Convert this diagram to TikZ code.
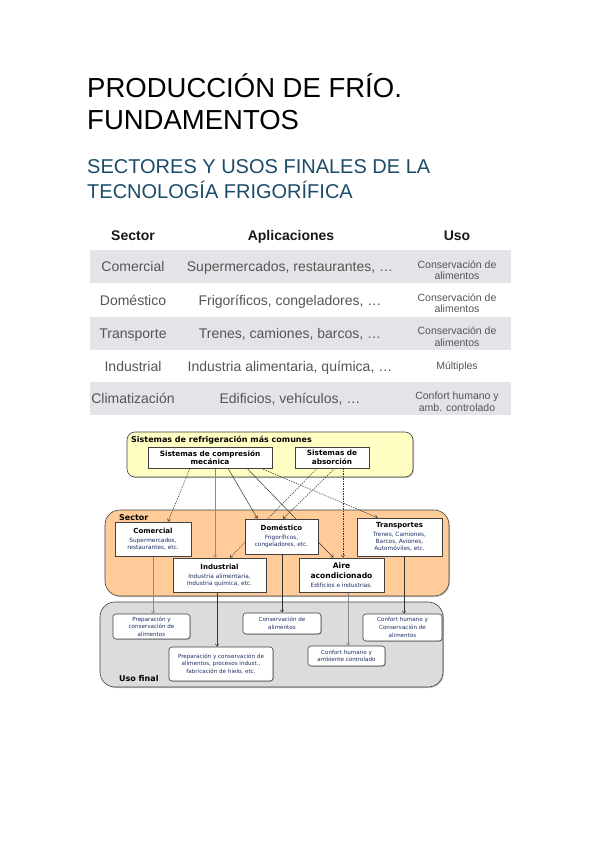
\documentclass[tikz,border=0pt]{standalone}
\usepackage{fontspec}
\setmainfont{Liberation Sans}
\newfontfamily\diagfont{DejaVu Sans}
\usepackage{tikz}
\usetikzlibrary{positioning}
\usetikzlibrary{arrows.meta}
\usetikzlibrary{shadows}

\definecolor{titleblue}{RGB}{28,76,106}
\definecolor{rowgray}{RGB}{228,228,232}
\definecolor{tabtext}{RGB}{85,85,85}
\definecolor{sysyellow}{RGB}{255,255,196}
\definecolor{secorange}{RGB}{255,204,153}
\definecolor{usegray}{RGB}{220,220,220}
\definecolor{subblue}{RGB}{30,45,100}

\pgfdeclarelayer{back}
\pgfdeclarelayer{mid}
\pgfsetlayers{back,mid,main}

\newcommand{\boxtext}[2]{{\bfseries\fontsize{7}{8.5}\selectfont #1\par}\vspace{2pt}{\fontsize{5.8}{7}\selectfont\color{subblue}#2\par}}

\tikzset{
  head/.style={anchor=base, inner sep=0pt, font=\fontsize{14}{16}\selectfont\bfseries, text=black!90},
  cell/.style={anchor=base, inner sep=0pt, font=\fontsize{14}{16}\selectfont, text=tabtext},
  usecell/.style={inner sep=0pt, align=center, font=\fontsize{10.5}{11.5}\selectfont, text=tabtext},
  frame/.style={draw=black!75, line width=0.6pt, drop shadow={shadow xshift=1pt, shadow yshift=-1pt, opacity=0.45}},
  grouplabel/.style={anchor=west, inner sep=0pt, font=\diagfont\bfseries\fontsize{8}{9}\selectfont},
  sysbox/.style={draw=black!75, fill=white, line width=0.6pt, inner sep=0pt, align=center, font=\diagfont\bfseries\fontsize{7.3}{8.7}\selectfont, drop shadow={shadow xshift=0.8pt, shadow yshift=-0.8pt, opacity=0.45}},
  secbox/.style={draw=black!75, fill=white, line width=0.6pt, inner sep=1pt, align=flush center, font=\diagfont, drop shadow={shadow xshift=0.8pt, shadow yshift=-0.8pt, opacity=0.45}},
  usebox/.style={draw=black!75, fill=white, rounded corners=3pt, line width=0.6pt, inner sep=1pt, align=flush center, text=subblue, font=\diagfont\fontsize{5.6}{7.6}\selectfont, drop shadow={shadow xshift=0.8pt, shadow yshift=-0.8pt, opacity=0.45}},
  link/.style={draw=black!80, line width=0.5pt, -{Straight Barb[length=2.5pt,width=3.5pt]}},
  dlink/.style={link, dash pattern=on 1.5pt off 1pt},
  glink/.style={link, draw=black!45},
}

\begin{document}
\begin{tikzpicture}[x=1pt,y=-1pt]
  \begin{pgfonlayer}{back}
    \fill[white] (0,0) rectangle (599,848);
  \end{pgfonlayer}
  \useasboundingbox (0,0) rectangle (599,848);

  % title
  \node[anchor=base west, inner sep=0pt, font=\fontsize{27.5}{32}\selectfont] (tit1) at (87,98) {PRODUCCIÓN DE FRÍO.};
  \node[anchor=base west, inner sep=0pt, font=\fontsize{27.5}{32}\selectfont] (tit2) at (87,130) {FUNDAMENTOS};
  \node[anchor=base west, inner sep=0pt, text=titleblue, font=\fontsize{20}{24}\selectfont] (sub1) at (87,173) {SECTORES Y USOS FINALES DE LA};
  \node[anchor=base west, inner sep=0pt, text=titleblue, font=\fontsize{20}{24}\selectfont] (sub2) at (87,198) {TECNOLOGÍA FRIGORÍFICA};

  % table
  \foreach \y in {250,317,382}
    \fill[rowgray] (90,\y) rectangle (511,\y+33);

  \node[head] (hsec) at (133,240) {Sector};
  \node[head] (happ) at (291,240) {Aplicaciones};
  \node[head] (huso) at (457,240) {Uso};

  \node[cell] (sec1) at (133,271.5) {Comercial};
  \node[cell] (sec2) at (133,305) {Doméstico};
  \node[cell] (sec3) at (133,338.5) {Transporte};
  \node[cell] (sec4) at (133,371) {Industrial};
  \node[cell] (sec5) at (133,403.5) {Climatización};

  \node[cell] (app1) at (290,271.5) {Supermercados, restaurantes, …};
  \node[cell] (app2) at (290,305) {Frigoríficos, congeladores, …};
  \node[cell] (app3) at (290,338.5) {Trenes, camiones, barcos, …};
  \node[cell] (app4) at (290,371) {Industria alimentaria, química, …};
  \node[cell] (app5) at (290,403.5) {Edificios, vehículos, …};

  \node[usecell] (uso1) at (457,270) {Conservación de\\alimentos};
  \node[usecell] (uso2) at (457,303) {Conservación de\\alimentos};
  \node[usecell] (uso3) at (457,336.5) {Conservación de\\alimentos};
  \node[usecell] (uso4) at (457,367) {Múltiples};
  \node[usecell] (uso5) at (457,401.5) {Confort humano y\\amb. controlado};

  % diagram frames
  \begin{pgfonlayer}{back}
    \draw[frame, fill=sysyellow, rounded corners=8pt] (127,432) rectangle (413,477);
    \draw[frame, fill=secorange, rounded corners=15pt] (105,510) rectangle (449,596);
    \draw[frame, fill=usegray, rounded corners=15pt] (100,602) rectangle (443,687);
  \end{pgfonlayer}
  \node[grouplabel] (lsis) at (131,440) {Sistemas de refrigeración más comunes};
  \node[grouplabel] (lsec) at (119,518) {Sector};
  \node[grouplabel] (luso) at (119,679) {Uso final};

  % sistemas
  \node[sysbox, minimum width=124pt, minimum height=21pt] (comp) at (210,457.5) {Sistemas de compresión\\mecánica};
  \node[sysbox, minimum width=74pt, minimum height=21pt] (abs) at (332,457.5) {Sistemas de\\absorción};

  % sectores
  \node[secbox, text width=74pt, minimum height=34pt] (com) at (153,539) {\boxtext{Comercial}{Supermercados,\\restaurantes, etc.}};
  \node[secbox, text width=71pt, minimum height=35pt] (dom) at (281.5,536.5) {\boxtext{Doméstico}{Frigoríficos,\\congeladores, etc.}};
  \node[secbox, text width=91pt, minimum height=34pt] (ind) at (219.5,575) {\boxtext{Industrial}{Industria alimentaria.\\Industria química, etc.}};
  \node[secbox, text width=83pt, minimum height=38pt] (tra) at (399.5,537) {\boxtext{Transportes}{Trenes, Camiones,\\Barcos, Aviones,\\Automóviles, etc.}};
  \node[secbox, text width=83pt, minimum height=34pt] (aire) at (341.5,575) {{\bfseries\fontsize{7.6}{9.5}\selectfont Aire\\acondicionado\par}\vspace{2pt}{\fontsize{5.8}{7}\selectfont\color{subblue}Edificios e industrias.\par}};

  % usos finales
  \node[usebox, text width=75pt, minimum height=25pt] (u1) at (151.5,626.5) {Preparación y\\conservación de\\alimentos};
  \node[usebox, text width=102pt, minimum height=34pt] (u2) at (221,664) {Preparación y conservación de\\alimentos, procesos indust.,\\fabricación de hielo, etc.};
  \node[usebox, text width=76pt, minimum height=21pt] (u3) at (282,623.5) {Conservación de\\alimentos};
  \node[usebox, text width=77pt, minimum height=27pt] (u4) at (402.5,627.5) {Confort humano y\\Conservación de\\alimentos};
  \node[usebox, text width=75pt, minimum height=20pt] (u5) at (346.5,656) {Confort humano y\\ambiente controlado};

  % connectors
  \begin{pgfonlayer}{mid}
    \draw[dlink] ([xshift=-20pt]comp.south) -- ([xshift=15pt]com.north);
    \draw[glink] ([xshift=5pt]comp.south) -- ([xshift=-4.5pt]ind.north);
    \draw[link] ([xshift=18pt]comp.south) -- ([xshift=-24pt]dom.north);
    \draw[link] ([xshift=37pt]comp.south) -- ([xshift=-8pt]aire.north);
    \draw[dlink] ([xshift=51pt]comp.south) -- ([xshift=-22pt]tra.north);
    \draw[dlink] ([xshift=3pt]abs.south) -- ([xshift=1.5pt]dom.north);
    \draw[dlink] ([xshift=-15pt]abs.south) -- ([xshift=10.5pt]ind.north);
    \draw[dlink] ([xshift=11pt]abs.south) -- ([xshift=1.5pt]aire.north);

    \draw[glink] (com.south) -- ([xshift=1.5pt]u1.north);
    \draw[link] ([xshift=-2.5pt]ind.south) -- ([xshift=-4pt]u2.north);
    \draw[link] ([xshift=0.5pt]dom.south) -- (u3.north);
    \draw[glink] ([xshift=6.5pt]aire.south) -- ([xshift=1.5pt]u5.north);
    \draw[link] ([xshift=4.5pt]tra.south) -- ([xshift=1.5pt]u4.north);
  \end{pgfonlayer}
\end{tikzpicture}
\end{document}
